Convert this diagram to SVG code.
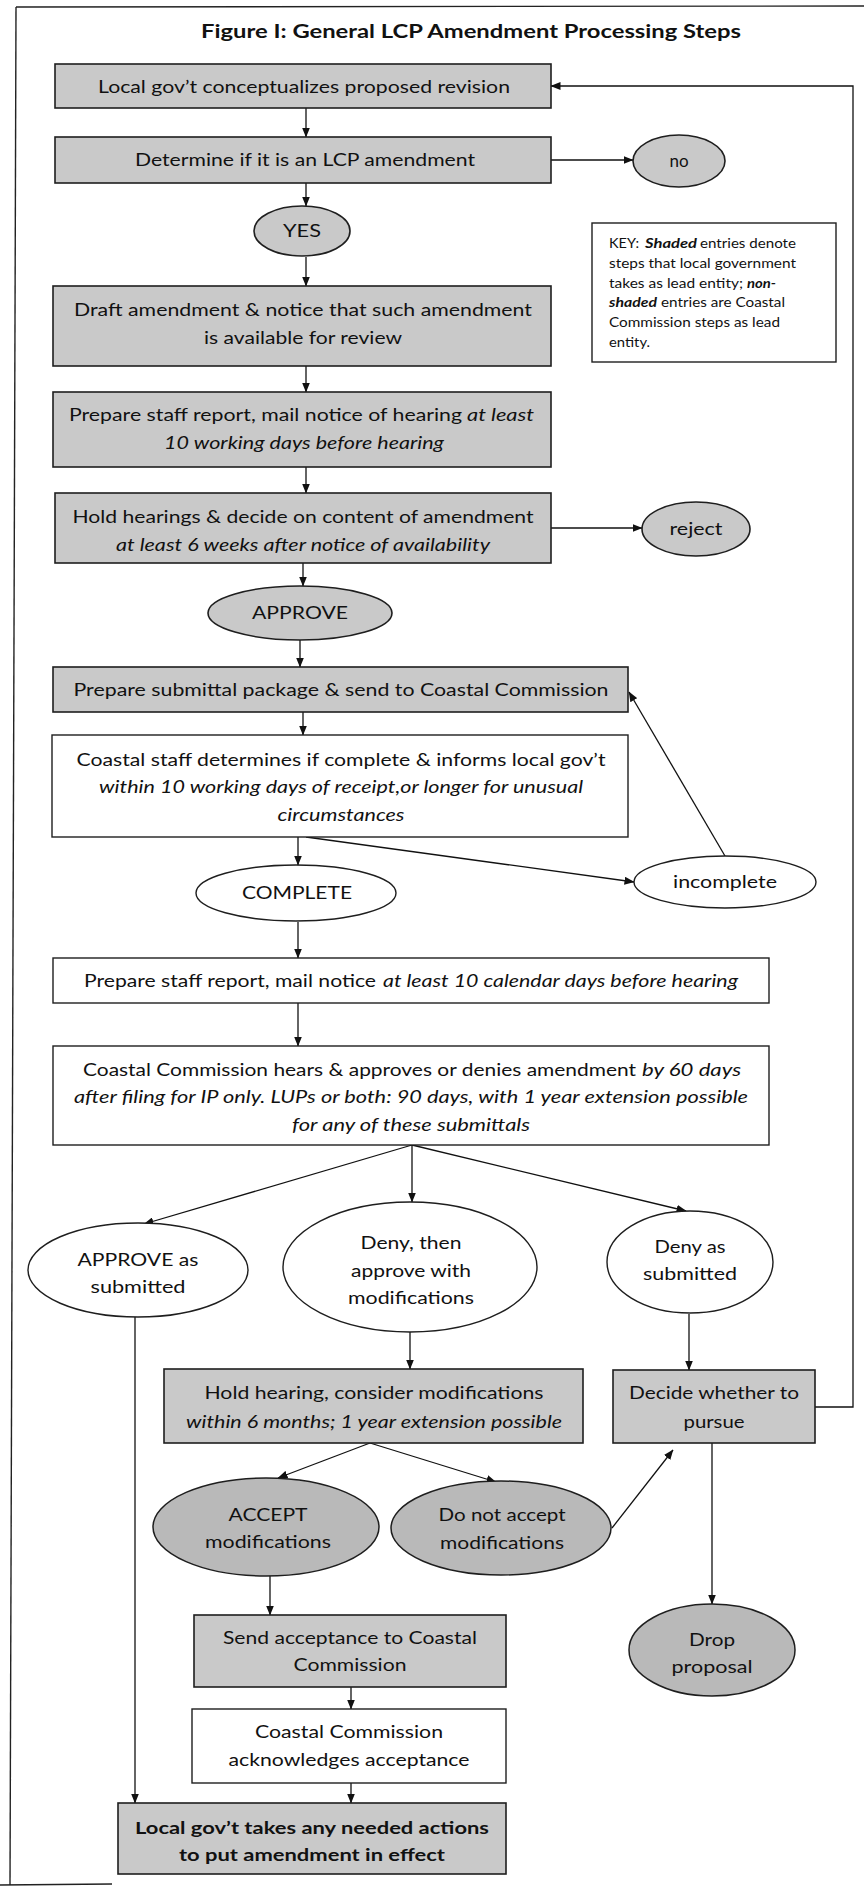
<svg xmlns="http://www.w3.org/2000/svg" width="864" height="1888" viewBox="0 0 864 1888">
<style>
.sh{fill:#c9c9c9;stroke:#1e1e1e;stroke-width:1.6}
.sd{fill:#b9b9b9;stroke:#1e1e1e;stroke-width:1.5}
.wh{fill:#ffffff;stroke:#1e1e1e;stroke-width:1.4}
.t{font-family:Lato,'Open Sans','Liberation Sans',sans-serif;font-size:17px;fill:#111;text-anchor:middle}
.s{text-anchor:start}
.i{font-style:italic}
.b{font-weight:bold}
.k{font-size:13px}
.c{stroke:#111;stroke-width:1.3;fill:none;marker-end:url(#ah)}
.f{stroke:#222;stroke-width:1.4;fill:none}
</style>
<defs>
<marker id="ah" markerWidth="10" markerHeight="8" refX="9.5" refY="4" orient="auto" markerUnits="userSpaceOnUse"><path d="M0,0 L10,4 L0,8 z" fill="#111"/></marker>
</defs>
<rect x="0" y="0" width="864" height="1888" fill="#ffffff"/>
<g id="frame">
<line class="f" x1="16" y1="7" x2="864" y2="6"/>
<line class="f" x1="16" y1="7" x2="10" y2="1885"/>
<line class="f" x1="0" y1="1885" x2="112" y2="1884"/>
</g>
<text id="title" class="t b s" x="201" y="38" style="font-size:19px" textLength="540" lengthAdjust="spacingAndGlyphs">Figure I: General LCP Amendment Processing Steps</text>

<g id="connectors">
<line class="c" x1="306" y1="108" x2="306" y2="137"/>
<line class="c" x1="551" y1="160" x2="633" y2="160"/>
<line class="c" x1="306" y1="183" x2="306" y2="206"/>
<line class="c" x1="306" y1="257" x2="306" y2="286"/>
<line class="c" x1="306" y1="366" x2="306" y2="392"/>
<line class="c" x1="306" y1="467" x2="306" y2="493"/>
<line class="c" x1="551" y1="528" x2="642" y2="528"/>
<line class="c" x1="303" y1="563" x2="303" y2="586"/>
<line class="c" x1="300" y1="640" x2="300" y2="667"/>
<line class="c" x1="303" y1="712" x2="303" y2="735"/>
<line class="c" x1="298" y1="837" x2="298" y2="865"/>
<line class="c" x1="306" y1="837" x2="634" y2="882"/>
<line class="c" x1="725" y1="856" x2="629" y2="692"/>
<line class="c" x1="298" y1="922" x2="298" y2="958"/>
<line class="c" x1="298" y1="1003" x2="298" y2="1046"/>
<line class="c" x1="412" y1="1145" x2="144" y2="1224"/>
<line class="c" x1="412" y1="1145" x2="412" y2="1202"/>
<line class="c" x1="412" y1="1145" x2="686" y2="1211"/>
<line class="c" x1="135" y1="1317" x2="135" y2="1803"/>
<line class="c" x1="410" y1="1332" x2="410" y2="1369"/>
<line class="c" x1="689" y1="1314" x2="689" y2="1370"/>
<polyline class="c" points="815,1407 853,1407 853,86 551,86"/>
<line class="c" x1="370" y1="1443" x2="278" y2="1478"/>
<line class="c" x1="370" y1="1443" x2="496" y2="1482"/>
<line class="c" x1="612" y1="1528" x2="673" y2="1450"/>
<line class="c" x1="712" y1="1443" x2="712" y2="1604"/>
<line class="c" x1="270" y1="1576" x2="270" y2="1615"/>
<line class="c" x1="351" y1="1687" x2="351" y2="1709"/>
<line class="c" x1="351" y1="1783" x2="351" y2="1803"/>
</g>

<g id="n1">
<rect class="sh" x="55" y="64" width="496" height="44"/>
<text class="t" x="304" y="93" textLength="412" lengthAdjust="spacingAndGlyphs">Local gov’t conceptualizes proposed revision</text>
</g>
<g id="n2">
<rect class="sh" x="55" y="137" width="496" height="46"/>
<text class="t" x="305" y="166" textLength="340" lengthAdjust="spacingAndGlyphs">Determine if it is an LCP amendment</text>
</g>
<g id="no">
<ellipse class="sh" cx="679" cy="161" rx="46" ry="26"/>
<text class="t" x="679" y="167">no</text>
</g>
<g id="yes">
<ellipse class="sh" cx="302" cy="231" rx="48" ry="25"/>
<text class="t" x="302" y="237" textLength="38" lengthAdjust="spacingAndGlyphs">YES</text>
</g>
<g id="key">
<rect class="wh" x="592" y="223" width="244" height="139"/>
<text class="t k s" x="609" y="248" textLength="30" lengthAdjust="spacingAndGlyphs">KEY:</text>
<text class="t k s b i" x="645" y="248" textLength="52" lengthAdjust="spacingAndGlyphs">Shaded</text>
<text class="t k s" x="700" y="248" textLength="96" lengthAdjust="spacingAndGlyphs">entries denote</text>
<text class="t k s" x="609" y="268" textLength="187" lengthAdjust="spacingAndGlyphs">steps that local government</text>
<text class="t k s" x="609" y="288" textLength="134" lengthAdjust="spacingAndGlyphs">takes as lead entity;</text>
<text class="t k s b i" x="747" y="288" textLength="29" lengthAdjust="spacingAndGlyphs">non-</text>
<text class="t k s b i" x="609" y="307" textLength="48" lengthAdjust="spacingAndGlyphs">shaded</text>
<text class="t k s" x="661" y="307" textLength="124" lengthAdjust="spacingAndGlyphs">entries are Coastal</text>
<text class="t k s" x="609" y="327" textLength="171" lengthAdjust="spacingAndGlyphs">Commission steps as lead</text>
<text class="t k s" x="609" y="347" textLength="41" lengthAdjust="spacingAndGlyphs">entity.</text>
</g>
<g id="n3">
<rect class="sh" x="53" y="286" width="498" height="80"/>
<text class="t" x="303" y="316" textLength="458" lengthAdjust="spacingAndGlyphs">Draft amendment &amp; notice that such amendment</text>
<text class="t" x="303" y="344" textLength="198" lengthAdjust="spacingAndGlyphs">is available for review</text>
</g>
<g id="n4">
<rect class="sh" x="53" y="392" width="498" height="75"/>
<text class="t s" x="69" y="421" textLength="393" lengthAdjust="spacingAndGlyphs">Prepare staff report, mail notice of hearing</text>
<text class="t s i" x="467" y="421" textLength="67" lengthAdjust="spacingAndGlyphs">at least</text>
<text class="t i" x="304" y="449" textLength="280" lengthAdjust="spacingAndGlyphs">10 working days before hearing</text>
</g>
<g id="n5">
<rect class="sh" x="55" y="493" width="496" height="70"/>
<text class="t" x="303" y="523" textLength="461" lengthAdjust="spacingAndGlyphs">Hold hearings &amp; decide on content of amendment</text>
<text class="t i" x="303" y="551" textLength="374" lengthAdjust="spacingAndGlyphs">at least 6 weeks after notice of availability</text>
</g>
<g id="reject">
<ellipse class="sh" cx="696" cy="529" rx="54" ry="27"/>
<text class="t" x="696" y="535" textLength="53" lengthAdjust="spacingAndGlyphs">reject</text>
</g>
<g id="approve">
<ellipse class="sh" cx="300" cy="613" rx="92" ry="27"/>
<text class="t" x="300" y="619" textLength="96" lengthAdjust="spacingAndGlyphs">APPROVE</text>
</g>
<g id="n6">
<rect class="sh" x="53" y="667" width="575" height="45"/>
<text class="t" x="341" y="696" textLength="535" lengthAdjust="spacingAndGlyphs">Prepare submittal package &amp; send to Coastal Commission</text>
</g>
<g id="n7">
<rect class="wh" x="52" y="735" width="576" height="102"/>
<text class="t" x="341" y="766" textLength="529" lengthAdjust="spacingAndGlyphs">Coastal staff determines if complete &amp; informs local gov’t</text>
<text class="t i" x="341" y="793" textLength="484" lengthAdjust="spacingAndGlyphs">within 10 working days of receipt,or longer for unusual</text>
<text class="t i" x="341" y="821" textLength="127" lengthAdjust="spacingAndGlyphs">circumstances</text>
</g>
<g id="complete">
<ellipse class="wh" cx="296" cy="893" rx="100" ry="28"/>
<text class="t" x="297" y="899" textLength="110" lengthAdjust="spacingAndGlyphs">COMPLETE</text>
</g>
<g id="incomplete">
<ellipse class="wh" cx="725" cy="882" rx="91" ry="26"/>
<text class="t" x="725" y="888" textLength="104" lengthAdjust="spacingAndGlyphs">incomplete</text>
</g>
<g id="n8">
<rect class="wh" x="53" y="958" width="716" height="45"/>
<text class="t s" x="84" y="987" textLength="292" lengthAdjust="spacingAndGlyphs">Prepare staff report, mail notice</text>
<text class="t s i" x="383" y="987" textLength="355" lengthAdjust="spacingAndGlyphs">at least 10 calendar days before hearing</text>
</g>
<g id="n9">
<rect class="wh" x="53" y="1046" width="716" height="99"/>
<text class="t s" x="83" y="1076" textLength="553" lengthAdjust="spacingAndGlyphs">Coastal Commission hears &amp; approves or denies amendment</text>
<text class="t s i" x="642" y="1076" textLength="99" lengthAdjust="spacingAndGlyphs">by 60 days</text>
<text class="t i" x="411" y="1103" textLength="674" lengthAdjust="spacingAndGlyphs">after filing for IP only.  LUPs or both: 90 days, with 1 year extension possible</text>
<text class="t i" x="411" y="1131" textLength="238" lengthAdjust="spacingAndGlyphs">for any of these submittals</text>
</g>
<g id="approve-as">
<ellipse class="wh" cx="138" cy="1270" rx="110" ry="47"/>
<text class="t" x="138" y="1266" textLength="121" lengthAdjust="spacingAndGlyphs">APPROVE as</text>
<text class="t" x="138" y="1293" textLength="95" lengthAdjust="spacingAndGlyphs">submitted</text>
</g>
<g id="deny-then">
<ellipse class="wh" cx="410" cy="1267" rx="127" ry="65"/>
<text class="t" x="411" y="1249" textLength="101" lengthAdjust="spacingAndGlyphs">Deny, then</text>
<text class="t" x="411" y="1277" textLength="120" lengthAdjust="spacingAndGlyphs">approve with</text>
<text class="t" x="411" y="1304" textLength="126" lengthAdjust="spacingAndGlyphs">modifications</text>
</g>
<g id="deny-as">
<ellipse class="wh" cx="690" cy="1262" rx="83" ry="51"/>
<text class="t" x="690" y="1253" textLength="71" lengthAdjust="spacingAndGlyphs">Deny as</text>
<text class="t" x="690" y="1280" textLength="94" lengthAdjust="spacingAndGlyphs">submitted</text>
</g>
<g id="hold">
<rect class="sh" x="164" y="1369" width="419" height="74"/>
<text class="t" x="374" y="1399" textLength="339" lengthAdjust="spacingAndGlyphs">Hold hearing, consider modifications</text>
<text class="t i" x="374" y="1428" textLength="376" lengthAdjust="spacingAndGlyphs">within 6 months; 1 year extension possible</text>
</g>
<g id="decide">
<rect class="sh" x="613" y="1370" width="202" height="73"/>
<text class="t" x="714" y="1399" textLength="170" lengthAdjust="spacingAndGlyphs">Decide whether to</text>
<text class="t" x="714" y="1428" textLength="61" lengthAdjust="spacingAndGlyphs">pursue</text>
</g>
<g id="accept">
<ellipse class="sd" cx="266" cy="1527" rx="113" ry="49"/>
<text class="t" x="268" y="1521" textLength="79" lengthAdjust="spacingAndGlyphs">ACCEPT</text>
<text class="t" x="268" y="1548" textLength="126" lengthAdjust="spacingAndGlyphs">modifications</text>
</g>
<g id="donot">
<ellipse class="sd" cx="501" cy="1528" rx="110" ry="47"/>
<text class="t" x="502" y="1521" textLength="127" lengthAdjust="spacingAndGlyphs">Do not accept</text>
<text class="t" x="502" y="1549" textLength="124" lengthAdjust="spacingAndGlyphs">modifications</text>
</g>
<g id="drop">
<ellipse class="sd" cx="712" cy="1650" rx="83" ry="46"/>
<text class="t" x="712" y="1646" textLength="46" lengthAdjust="spacingAndGlyphs">Drop</text>
<text class="t" x="712" y="1673" textLength="81" lengthAdjust="spacingAndGlyphs">proposal</text>
</g>
<g id="send">
<rect class="sh" x="194" y="1615" width="312" height="72"/>
<text class="t" x="350" y="1644" textLength="254" lengthAdjust="spacingAndGlyphs">Send acceptance to Coastal</text>
<text class="t" x="350" y="1671" textLength="113" lengthAdjust="spacingAndGlyphs">Commission</text>
</g>
<g id="ack">
<rect class="wh" x="192" y="1709" width="314" height="74"/>
<text class="t" x="349" y="1738" textLength="188" lengthAdjust="spacingAndGlyphs">Coastal Commission</text>
<text class="t" x="349" y="1766" textLength="241" lengthAdjust="spacingAndGlyphs">acknowledges acceptance</text>
</g>
<g id="final">
<rect class="sh" x="118" y="1803" width="388" height="71"/>
<text class="t b" x="312" y="1834" textLength="354" lengthAdjust="spacingAndGlyphs">Local gov’t takes any needed actions</text>
<text class="t b" x="312" y="1861" textLength="266" lengthAdjust="spacingAndGlyphs">to put amendment in effect</text>
</g>
</svg>
